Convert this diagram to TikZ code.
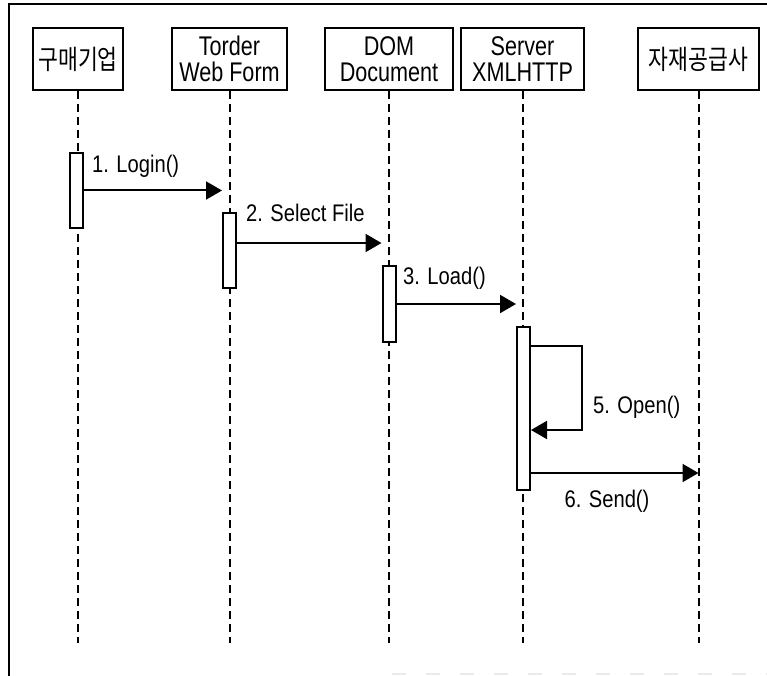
\documentclass[tikz,border=0pt]{standalone}
\usepackage{fontspec}
\setmainfont{Liberation Sans}
\newfontfamily\latfont{Liberation Sans}[FakeStretch=0.8]
\newfontfamily\lblfont{Liberation Sans}[FakeStretch=0.84]
\newfontfamily\korfont{Noto Sans CJK KR}[FakeStretch=0.8]
\usetikzlibrary{arrows.meta,calc}
\tikzset{
  head/.style={draw, line width=2pt, fill=white, inner sep=0pt, minimum height=62pt,
    align=center, font=\latfont\fontsize{27}{26}\selectfont},
  korhead/.style={head, font=\korfont\fontsize{27}{30}\selectfont},
  life/.style={line width=2pt, dash pattern=on 8pt off 5pt},
  actbar/.style={draw, line width=2pt, fill=white, inner sep=0pt, minimum width=13pt},
  msg/.style={line width=2pt, -{Triangle[length=16pt,width=18pt]}},
  lbl/.style={inner sep=0pt, font=\lblfont\fontsize{24}{26}\selectfont},
  frameline/.style={line width=2pt}
}
\begin{document}
\begin{tikzpicture}[x=1pt,y=-1pt]
\useasboundingbox (0,0) rectangle (767,676);
% frame
\coordinate (fTL) at (9,4);
\coordinate (fTR) at (767,4);
\coordinate (fBL) at (9,676);
\draw[frameline] (fTR) -- (fTL) -- (fBL);
\coordinate (gA) at (392,674);
\coordinate (gB) at (767,674);
\draw[black!8, line width=1.5pt, dash pattern=on 14pt off 20pt] (gA) -- (gB);
% heads
\node[korhead, minimum width=90pt] (h1) at (78,59) {구매기업};
\node[head, minimum width=115pt] (h2) at (229.5,59) {Torder\\Web Form};
\node[head, minimum width=128pt] (h3) at (389,59) {DOM\\Document};
\node[head, minimum width=123pt] (h4) at (522.5,59) {Server\\XMLHTTP};
\node[korhead, minimum width=121pt] (h5) at (698.5,59) {자재공급사};
% lifelines
\coordinate (bottom) at (0,643);
\foreach \i in {1,...,5}{
  \draw[life] (h\i.south) -- (h\i.south |- bottom);
}
% activation bars
\node[actbar, minimum height=75pt] (b1) at (76,190.5) {};
\node[actbar, minimum height=75pt] (b2) at (229.5,250.5) {};
\node[actbar, minimum height=76pt] (b3) at (389,304) {};
\node[actbar, minimum height=163pt] (b4) at (523.5,408.5) {};
% messages
\draw[msg] (b1.east) -- (b1.east -| b2.west);
\coordinate (a2) at ([yshift=-31pt]b2.north east);
\draw[msg] (a2) -- (a2 -| b3.west);
\draw[msg] (b3.east) -- (b3.east -| b4.west);
\coordinate (a5) at ([yshift=-20pt]b4.north east);
\coordinate (a5e) at ([yshift=-104pt]b4.north east);
\coordinate (a5r) at (582,0);
\draw[msg] (a5) -- (a5 -| a5r) -- (a5e -| a5r) -- (a5e);
\coordinate (a6) at ([yshift=18pt]b4.south east);
\draw[msg] (a6) -- (a6 -| h5.south);
% labels
\node[lbl, anchor=base west] (l1) at (92,173) {1. Login()};
\node[lbl, anchor=base west] (l2) at (246,222) {2. Select File};
\node[lbl, anchor=base west] (l3) at (403,284) {3. Load()};
\node[lbl, anchor=base west] (l5) at (593,413) {5. Open()};
\node[lbl, anchor=base] (l6) at (607,507) {6. Send()};
\end{tikzpicture}
\end{document}
